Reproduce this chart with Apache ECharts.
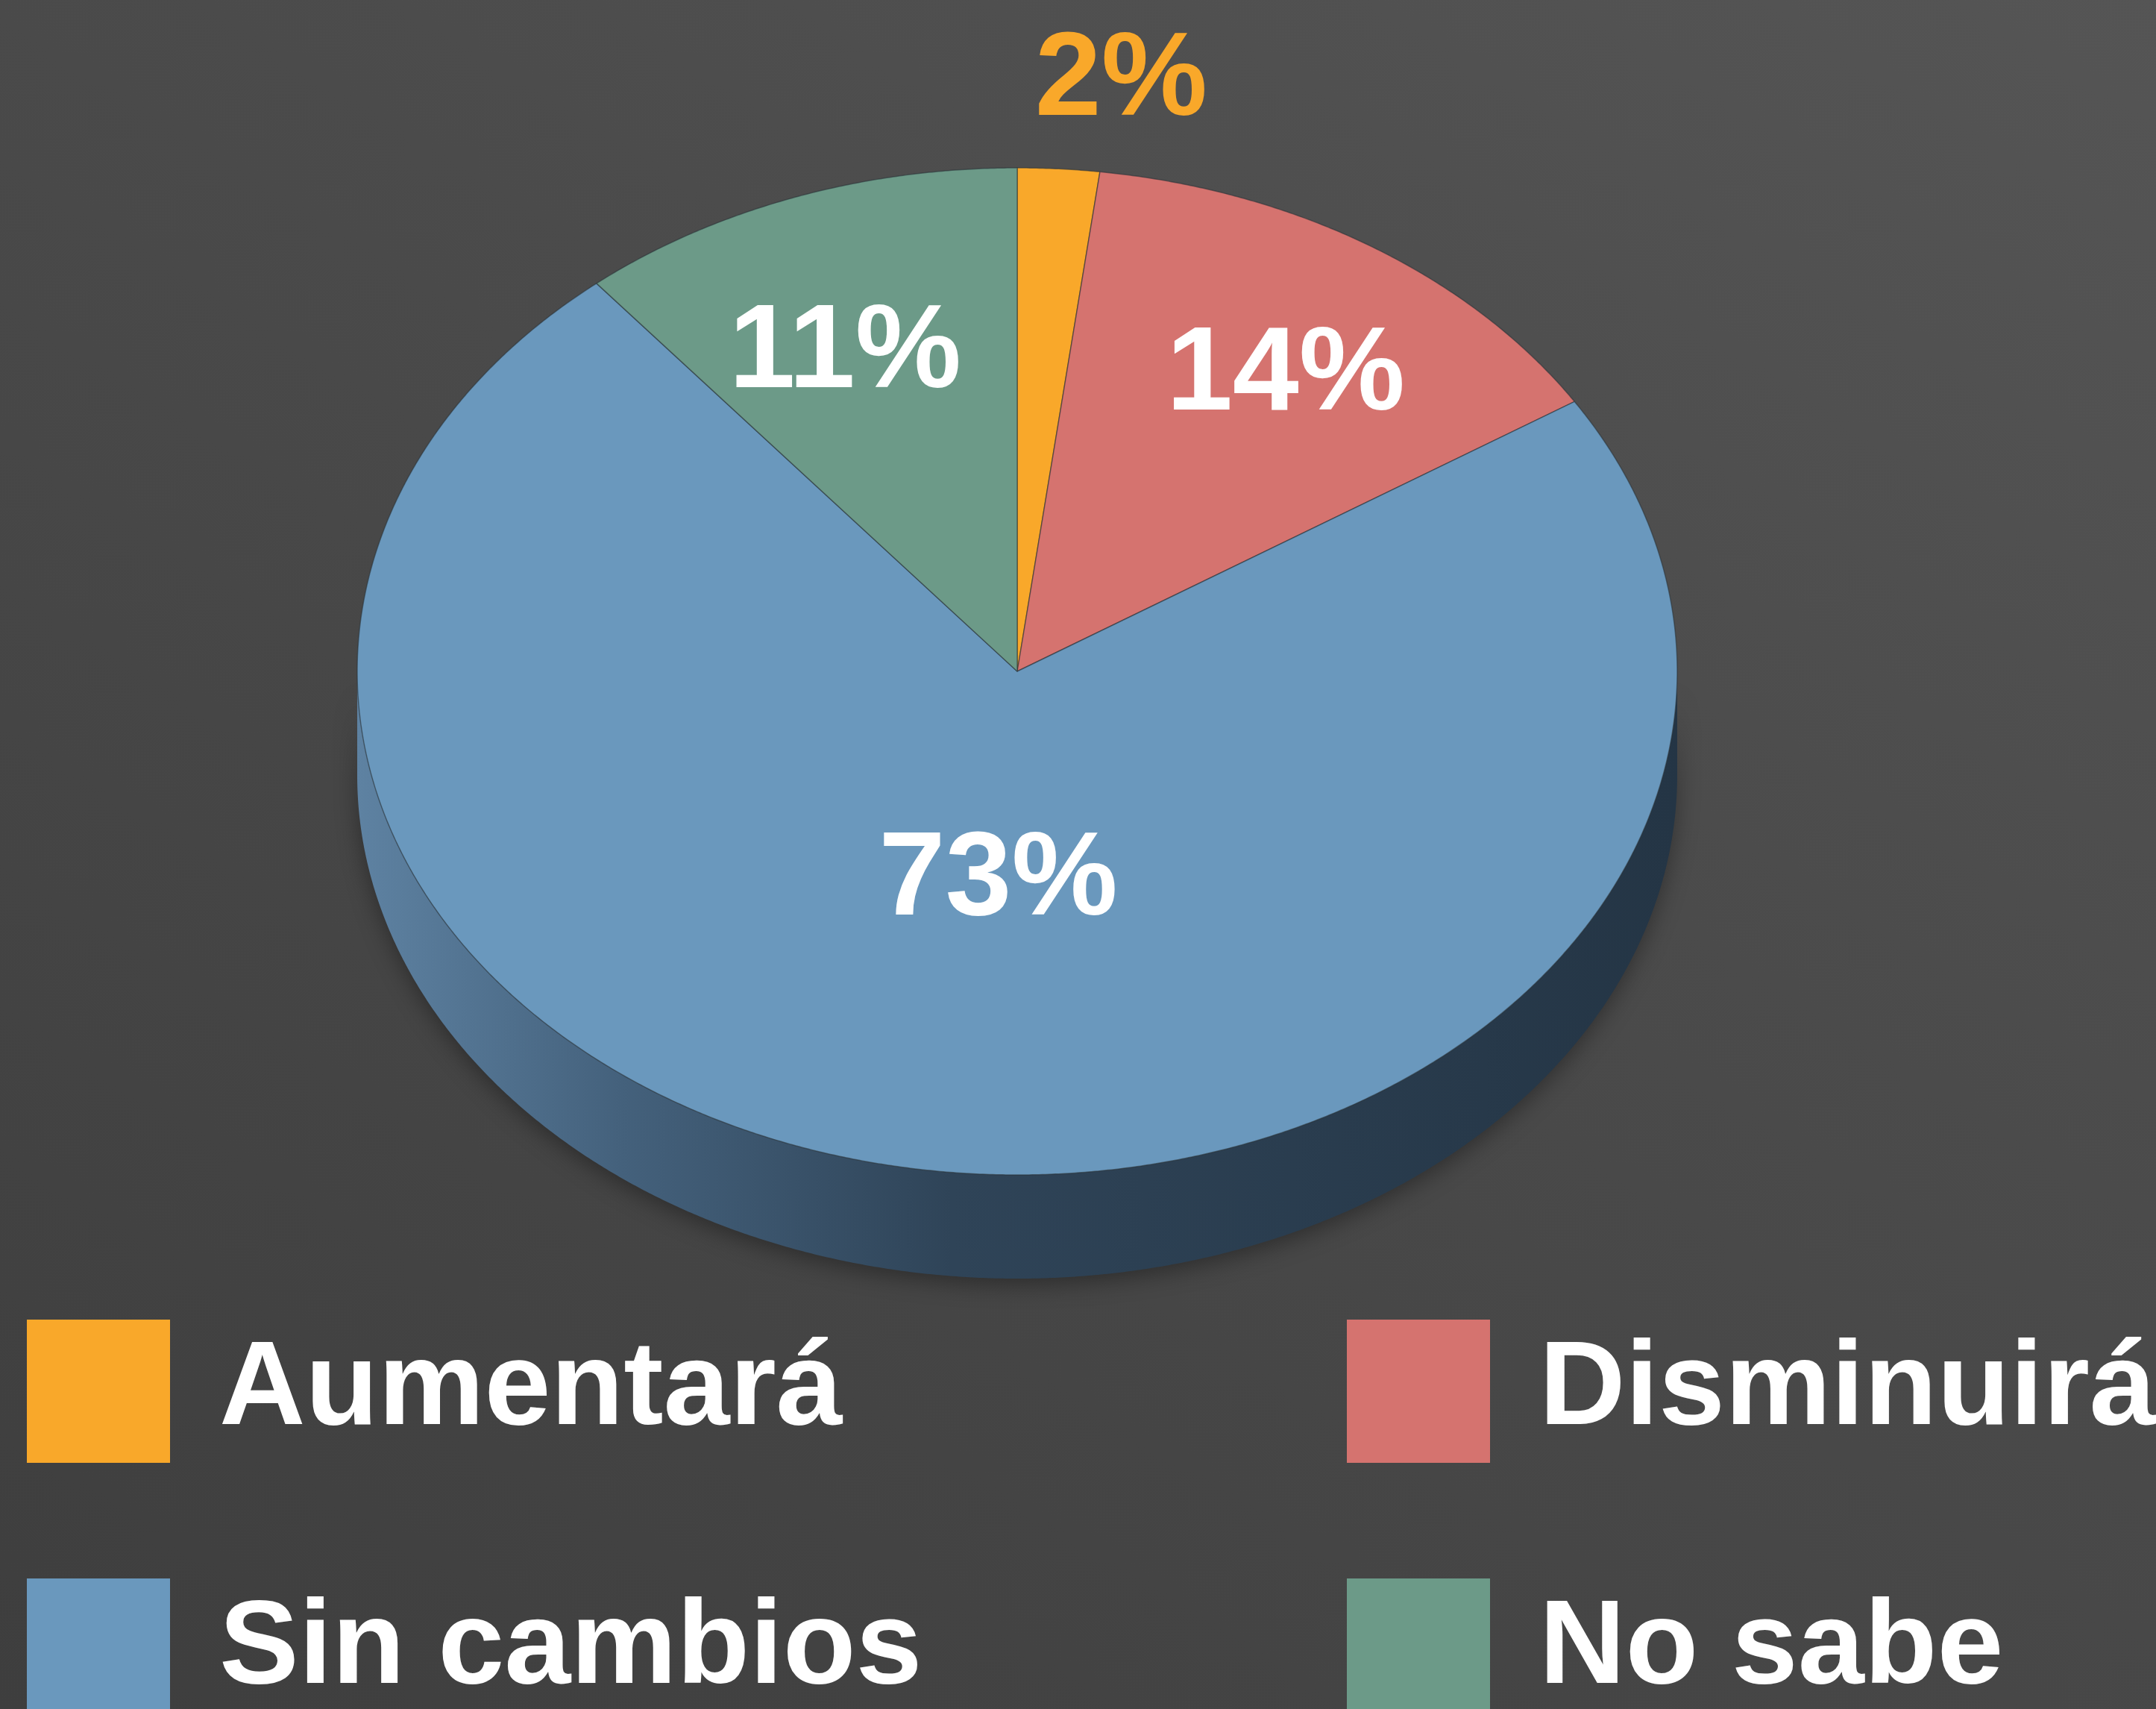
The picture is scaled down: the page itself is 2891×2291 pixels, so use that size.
<!DOCTYPE html>
<html>
<head>
<meta charset="utf-8">
<script src="https://cdn.jsdelivr.net/npm/echarts@6/dist/echarts.min.js"></script>
<style>
html,body{margin:0;padding:0;}
#chart{width:2891px;height:2291px;background:linear-gradient(212deg,#555555 0%,#4b4b4b 40%,#3e3e3e 100%);}
</style>
</head>
<body>
<div id="chart"></div>
<script>
// ---- data ----
const categories = ['Aumentará', 'Disminuirá', 'Sin cambios', 'No sabe'];
const values = [2, 14, 73, 11];
const labels = ['2%', '14%', '73%', '11%'];
const colors = ['#F9A82A', '#D5736F', '#6A98BD', '#6C9A88'];
const labelColors = ['#F9A82A', '#FFFFFF', '#FFFFFF', '#FFFFFF'];

// ---- layout / style ----
const geo = { cx: 1364, cy: 900, rx: 885, ry: 675, depth: 139 };
const labelRadius = [1.19, 0.72, 0.41, 0.69];
const labelAngleShift = [4, 2, -5, -2.4]; // degrees
const FONT = '"Liberation Sans", Arial, Helvetica, sans-serif';

const total = values.reduce((a, b) => a + b, 0);
const starts = [];
let acc = 0;
values.forEach(v => { starts.push(acc); acc += v; });

function pt(t, dy) {
  return [geo.cx + geo.rx * Math.sin(t), geo.cy - geo.ry * Math.cos(t) + (dy || 0)];
}
function arcPts(a0, a1, dy) {
  const n = Math.max(4, Math.ceil((a1 - a0) / 0.005));
  const out = [];
  for (let i = 0; i <= n; i++) out.push(pt(a0 + (a1 - a0) * i / n, dy));
  return out;
}

const wallGradient = {
  type: 'linear', global: true, x: geo.cx - geo.rx, y: 0, x2: geo.cx + geo.rx, y2: 0,
  colorStops: [
    { offset: 0, color: '#5e82a2' },
    { offset: 0.2, color: '#44617c' },
    { offset: 0.45, color: '#2f4458' },
    { offset: 1, color: '#243545' }
  ]
};

function makeRender(idx) {
  return function (params, api) {
    const v = api.value(0);
    const a0 = starts[idx] / total * Math.PI * 2;
    const a1 = a0 + v / total * Math.PI * 2;
    const children = [];
    // side wall (front half only)
    const s = Math.max(a0, Math.PI / 2), e = Math.min(a1, Math.PI * 1.5);
    if (e > s) {
      const top = arcPts(s, e, 0);
      const bot = arcPts(s, e, geo.depth).reverse();
      children.push({
        type: 'polygon', z2: 1,
        shape: { points: top.concat(bot) },
        style: { fill: wallGradient, shadowBlur: 30, shadowColor: 'rgba(0,0,0,0.35)', shadowOffsetY: 8 }
      });
    }
    // top face
    const pts = [[geo.cx, geo.cy]].concat(arcPts(a0, a1, 0));
    children.push({
      type: 'polygon', z2: 10,
      shape: { points: pts },
      style: { fill: colors[idx], stroke: 'rgba(40,50,55,0.55)', lineWidth: 1.5, lineJoin: 'round' }
    });
    // label
    const mid = (a0 + a1) / 2 + labelAngleShift[idx] * Math.PI / 180;
    const r = labelRadius[idx];
    children.push({
      type: 'text', z2: 20,
      style: {
        text: labels[idx],
        x: geo.cx + geo.rx * r * Math.sin(mid),
        y: geo.cy - geo.ry * r * Math.cos(mid) + 6,
        fill: labelColors[idx],
        fontSize: 160, fontWeight: 'bold', fontFamily: FONT,
        align: 'center', verticalAlign: 'middle',
        textAlign: 'center', textVerticalAlign: 'middle'
      }
    });
    return { type: 'group', children: children };
  };
}

const series = categories.map((name, i) => ({
  type: 'custom',
  name: name,
  coordinateSystem: 'none',
  color: colors[i],
  silent: true,
  renderItem: makeRender(i),
  data: [[values[i]]]
}));

const legendCommon = {
  orient: 'vertical',
  icon: 'rect',
  itemWidth: 192,
  itemHeight: 192,
  itemGap: 155,
  height: 700,
  width: 1050,
  selectedMode: false,
  textStyle: { color: '#FFFFFF', fontSize: 160, fontWeight: 'bold', fontFamily: FONT, padding: [14, 0, 0, 61] }
};

const chart = echarts.init(document.getElementById('chart'), null, { renderer: 'canvas' });
chart.setOption({
  backgroundColor: 'transparent',
  animation: false,
  legend: [
    Object.assign({}, legendCommon, { left: 31, top: 1764, data: [categories[0], categories[2]] }),
    Object.assign({}, legendCommon, { left: 1801, top: 1764, data: [categories[1], categories[3]] })
  ],
  series: series
});
</script>
</body>
</html>
